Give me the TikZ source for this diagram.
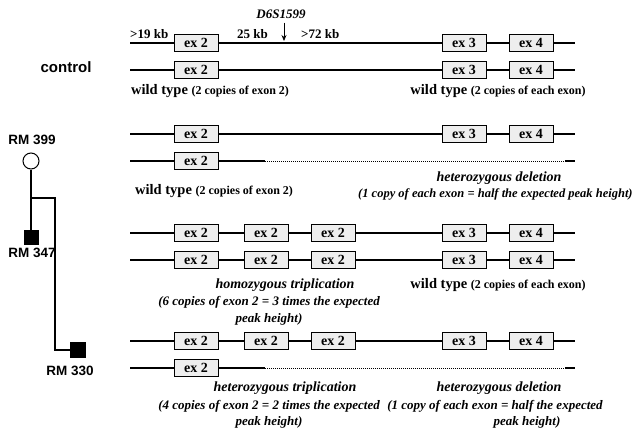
\documentclass[tikz,border=0pt]{standalone}
\usepackage{fontspec}
\setmainfont{Liberation Serif}
\newfontfamily\labelsans{Liberation Sans}
\usetikzlibrary{arrows.meta}
% smaller type for the copy-count remark after "wild type"
\newcommand\wtfix{\fontsize{12}{13}\selectfont}
\begin{document}
\begin{tikzpicture}[x=1pt,y=-1pt,
  exbox/.style={draw, line width=0.7pt, fill=gray!13, minimum width=44pt,
    minimum height=17pt, inner sep=0pt, font=\fontsize{14}{14}\selectfont\bfseries},
  dna/.style={line width=1.1pt},
  gone/.style={line width=1pt, dash pattern=on 1pt off 1pt},
  kb/.style={font=\fontsize{13}{13}\selectfont\bfseries, inner sep=0pt},
  wt/.style={font=\fontsize{14.5}{15}\selectfont\bfseries, inner sep=0pt},
  hd/.style={font=\fontsize{14}{15}\selectfont\bfseries\itshape, inner sep=0pt},
  sub/.style={font=\fontsize{13}{14}\selectfont\bfseries\itshape, inner sep=0pt},
  person/.style={font=\fontsize{13.5}{14}\selectfont\labelsans\bfseries, inner sep=0pt},
  ped/.style={line width=1.1pt}]
\useasboundingbox (0,0) rectangle (635,428);

% ---------- control: upper allele ----------
\coordinate (a1s) at (130,43); \coordinate (a1e) at (575,43);
\node[exbox] (a1x2) at (196,43) {ex 2};
\node[exbox] (a1x3) at (464,43) {ex 3};
\node[exbox] (a1x4) at (531,43) {ex 4};
\draw[dna] (a1s) -- (a1x2.west) (a1x2.east) -- (a1x3.west) (a1x3.east) -- (a1x4.west) (a1x4.east) -- (a1e);
\node[kb, anchor=base west] (k19) at (130,39) {>19 kb};
\node[kb, anchor=base west] (k25) at (237,39) {25 kb};
\node[kb, anchor=base west] (k72) at (301,39) {>72 kb};
\node[kb, font=\fontsize{13}{13}\selectfont\bfseries\itshape] (mk) at (281,14) {D6S1599};
\coordinate (mkt) at (284,41);
\draw[line width=0.8pt, -{Stealth[length=6pt,width=5pt]}] (mk.south -| mkt) ++(0,4) -- (mkt);

% ---------- control: lower allele ----------
\coordinate (a2s) at (130,70); \coordinate (a2e) at (575,70);
\node[exbox] (a2x2) at (196,70) {ex 2};
\node[exbox] (a2x3) at (464,70) {ex 3};
\node[exbox] (a2x4) at (531,70) {ex 4};
\draw[dna] (a2s) -- (a2x2.west) (a2x2.east) -- (a2x3.west) (a2x3.east) -- (a2x4.west) (a2x4.east) -- (a2e);
\node[wt, anchor=west] (c1) at (131,91) {wild type \wtfix(2 copies of exon 2)};
\node[wt] (c2) at (498,91) {wild type \wtfix(2 copies of each exon)};
\node[font=\fontsize{15}{15}\selectfont\labelsans\bfseries] (ctl) at (66,67) {control};

% ---------- RM 399 ----------
\coordinate (b1s) at (130,134); \coordinate (b1e) at (575,134);
\node[exbox] (b1x2) at (196,134) {ex 2};
\node[exbox] (b1x3) at (464,134) {ex 3};
\node[exbox] (b1x4) at (531,134) {ex 4};
\draw[dna] (b1s) -- (b1x2.west) (b1x2.east) -- (b1x3.west) (b1x3.east) -- (b1x4.west) (b1x4.east) -- (b1e);
\coordinate (b2s) at (130,161); \coordinate (b2m) at (265,161);
\coordinate (b2d) at (565,161); \coordinate (b2e) at (575,161);
\node[exbox] (b2x2) at (196,161) {ex 2};
\draw[dna] (b2s) -- (b2x2.west) (b2x2.east) -- (b2m) (b2d) -- (b2e);
\draw[gone] (b2m) -- (b2d);
\node[wt, anchor=west] (d1) at (135,191) {wild type \wtfix(2 copies of exon 2)};
\node[hd] (d2) at (499,178) {heterozygous deletion};
\node[sub, anchor=west, font=\fontsize{12.5}{13}\selectfont\bfseries\itshape] (d3) at (358,194)
  {(1 copy of each exon = half the expected peak height)};

% ---------- RM 347 ----------
\coordinate (e1s) at (130,233); \coordinate (e1e) at (575,233);
\node[exbox] (e1xa) at (196,233) {ex 2};
\node[exbox] (e1xb) at (266,233) {ex 2};
\node[exbox] (e1xc) at (333,233) {ex 2};
\node[exbox] (e1x3) at (464,233) {ex 3};
\node[exbox] (e1x4) at (531,233) {ex 4};
\draw[dna] (e1s) -- (e1xa.west) (e1xa.east) -- (e1xb.west) (e1xb.east) -- (e1xc.west)
  (e1xc.east) -- (e1x3.west) (e1x3.east) -- (e1x4.west) (e1x4.east) -- (e1e);
\coordinate (e2s) at (130,260); \coordinate (e2e) at (575,260);
\node[exbox] (e2xa) at (196,260) {ex 2};
\node[exbox] (e2xb) at (266,260) {ex 2};
\node[exbox] (e2xc) at (333,260) {ex 2};
\node[exbox] (e2x3) at (464,260) {ex 3};
\node[exbox] (e2x4) at (531,260) {ex 4};
\draw[dna] (e2s) -- (e2xa.west) (e2xa.east) -- (e2xb.west) (e2xb.east) -- (e2xc.west)
  (e2xc.east) -- (e2x3.west) (e2x3.east) -- (e2x4.west) (e2x4.east) -- (e2e);
\node[hd] (f1) at (285,285) {homozygous triplication};
\node[sub] (f2) at (269,302) {(6 copies of exon 2 = 3 times the expected};
\node[sub] (f3) at (269,319) {peak height)};
\node[wt] (f4) at (498,285) {wild type \wtfix(2 copies of each exon)};

% ---------- RM 330 ----------
\coordinate (g1s) at (130,341); \coordinate (g1e) at (575,341);
\node[exbox] (g1xa) at (196,341) {ex 2};
\node[exbox] (g1xb) at (266,341) {ex 2};
\node[exbox] (g1xc) at (333,341) {ex 2};
\node[exbox] (g1x3) at (464,341) {ex 3};
\node[exbox] (g1x4) at (531,341) {ex 4};
\draw[dna] (g1s) -- (g1xa.west) (g1xa.east) -- (g1xb.west) (g1xb.east) -- (g1xc.west)
  (g1xc.east) -- (g1x3.west) (g1x3.east) -- (g1x4.west) (g1x4.east) -- (g1e);
\coordinate (g2s) at (130,368); \coordinate (g2m) at (265,368);
\coordinate (g2d) at (565,368); \coordinate (g2e) at (575,368);
\node[exbox] (g2x2) at (196,368) {ex 2};
\draw[dna] (g2s) -- (g2x2.west) (g2x2.east) -- (g2m) (g2d) -- (g2e);
\draw[gone] (g2m) -- (g2d);
\node[hd] (h1) at (285,388) {heterozygous triplication};
\node[sub] (h2) at (269,406) {(4 copies of exon 2 = 2 times the expected};
\node[sub] (h3) at (269,422) {peak height)};
\node[hd] (h4) at (499,388) {heterozygous deletion};
\node[sub] (h5) at (495,406) {(1 copy of each exon = half the expected};
\node[sub] (h6) at (527,422) {peak height)};

% ---------- pedigree ----------
\node[draw, circle, line width=1pt, minimum size=16pt, inner sep=0pt] (p399) at (31,161) {};
\node[draw, fill=black, minimum size=14pt, inner sep=0pt] (p347) at (31,237) {};
\node[draw, fill=black, minimum size=15pt, inner sep=0pt] (p330) at (78,350) {};
\node[person] (l399) at (32,140) {RM 399};
\node[person] (l347) at (32,253) {RM 347};
\node[person] (l330) at (70,371) {RM 330};
\coordinate (sib) at (31,198);
\coordinate (bend) at (55,198);
\draw[ped] (p399.south) -- (p347.north);
\draw[ped] (sib) -- (bend) |- (p330.west);
\end{tikzpicture}
\end{document}
